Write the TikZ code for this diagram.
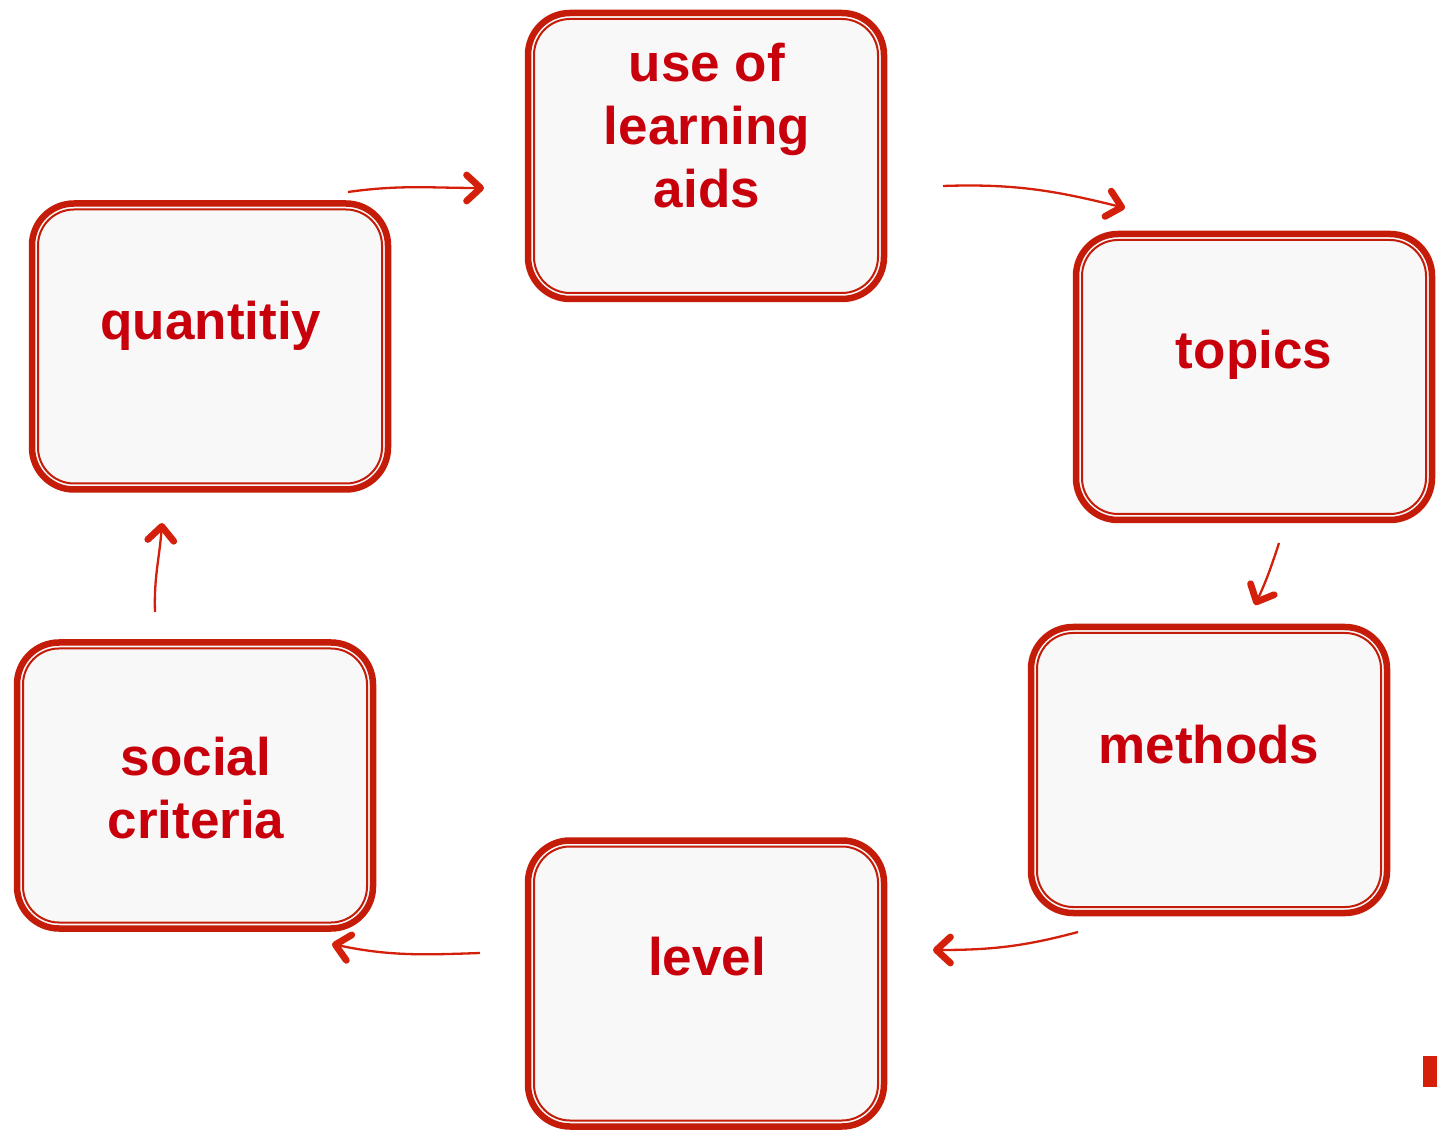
\documentclass[tikz,border=0pt]{standalone}
\usepackage{fontspec}
\setmainfont{Liberation Sans}
\usetikzlibrary{arrows.meta}
\definecolor{boxred}{RGB}{196,28,8}
\definecolor{txtred}{RGB}{200,0,12}
\definecolor{arrred}{RGB}{212,32,10}
\definecolor{boxfill}{RGB}{248,248,248}
\begin{document}
\begin{tikzpicture}[x=1pt,y=1pt,
 box/.style={draw=boxred, line width=6.5pt, fill=boxfill, rounded corners=42pt,
   minimum width=356pt, minimum height=286pt, inner sep=0pt, outer sep=0pt},
 inbox/.style={draw=boxred, line width=2pt, rounded corners=36pt},
 lbl/.style={text=txtred, font=\fontsize{53}{63}\selectfont\bfseries, align=center,
   anchor=base, inner sep=0pt},
 conn/.style={draw=arrred, line width=2.3pt,
   -{Straight Barb[length=14pt,width=26pt,line width=4.5pt 1,round]}}]
\useasboundingbox (0,0) rectangle (1437,1136);
% boxes
\node[box] (b1) at (706,980) {};
\node[box] (b2) at (1254,759) {};
\node[box] (b3) at (1209,366) {};
\node[box] (b4) at (706,152.5) {};
\node[box] (b5) at (195,350.5) {};
\node[box] (b6) at (210,789.5) {};
\foreach \n in {b1,b2,b3,b4,b5,b6}
  \draw[inbox] ([shift={(6,6)}]\n.south west) rectangle ([shift={(-6,-6)}]\n.north east);
% labels
\node[lbl] (t1) at (707,928) {use of\\learning\\aids};
\node[lbl] (t2) at (1254,767) {topics};
\node[lbl] (t3) at (1209,373) {methods};
\node[lbl] (t4) at (707,161) {level};
\node[lbl] (t5) at (196,298) {social\\criteria};
\node[lbl] (t6) at (211,796) {quantitiy};
% connector end points
\coordinate (a1s) at (348,944); \coordinate (a1e) at (484,948);
\coordinate (a2s) at (943,950); \coordinate (a2e) at (1125,928);
\coordinate (a3s) at (1279,593); \coordinate (a3e) at (1255,531);
\coordinate (a4s) at (1078,204); \coordinate (a4e) at (933,186);
\coordinate (a5s) at (480,183); \coordinate (a5e) at (332,192);
\coordinate (a6s) at (155,524); \coordinate (a6e) at (162,613);
\draw[conn] (a1s) to[out=8,in=180] (a1e);
\draw[conn] (a2s) to[out=2,in=166] (a2e);
\draw[conn] (a3s) to[out=252,in=65] (a3e);
\draw[conn] (a4s) to[out=195,in=0] (a4e);
\draw[conn] (a5s) to[out=182,in=-12] (a5e);
\draw[conn] (a6s) to[out=92,in=-94] (a6e);
% small red mark
\fill[arrred] (1423,49) rectangle (1437,80);
\end{tikzpicture}
\end{document}
